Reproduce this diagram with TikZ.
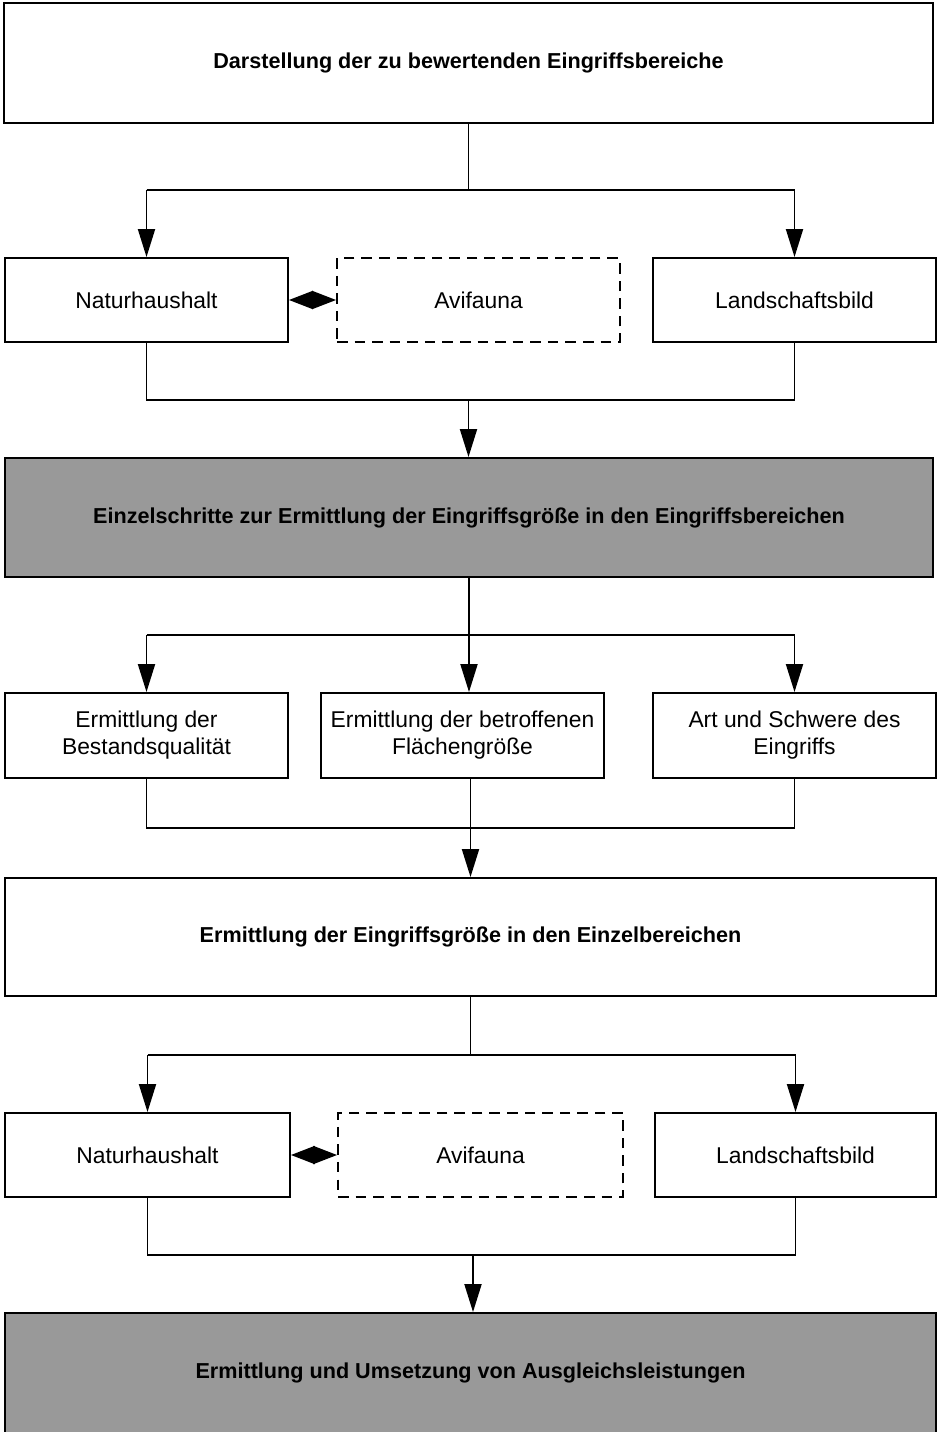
\documentclass[tikz,border=0pt]{standalone}
\usepackage{fontspec}
\setmainfont{Liberation Sans}
\usepackage{tikz}
\usetikzlibrary{arrows.meta, positioning}

\begin{document}
\begin{tikzpicture}[x=0.02cm, y=-0.02cm, line width=1.1pt,
  box/.style={draw=black, minimum width=5.66cm, minimum height=1.68cm, align=center, inner sep=1pt, font=\fontsize{13}{15.4}\selectfont},
  dbox/.style={box, dashed, dash pattern=on 6pt off 4pt},
  wide/.style={draw=black, minimum width=18.6cm, minimum height=2.38cm, align=center, font=\fontsize{12.3}{14}\selectfont\bfseries},
  greybox/.style={wide, fill=black!40},
  tip/.style={-{Triangle[length=0.56cm,width=0.34cm]}},
  both/.style={{Triangle[length=0.48cm,width=0.36cm]}-{Triangle[length=0.48cm,width=0.36cm]}}]

\useasboundingbox (0,0) rectangle (937,1432);

\node [wide, minimum width=18.58cm, minimum height=2.4cm] (darst) at (468.5,63) {Darstellung der zu bewertenden Eingriffsbereiche};

\node [box] (natur a) at (146.5,300) {Naturhaushalt};
\node [dbox] (avi a) at (478.5,300) {Avifauna};
\node [box] (land a) at (794.5,300) {Landschaftsbild};

\node [greybox, minimum width=18.56cm] (einzel) at (469,517.5) {Einzelschritte zur Ermittlung der Eingriffsgröße in den Eingriffsbereichen};

\node [box, minimum height=1.7cm] (bestand) at (146.5,735.5) {Ermittlung der\\Bestandsqualität};
\node [box, minimum height=1.7cm] (flaeche) at (462.5,735.5) {Ermittlung der betroffenen\\Flächengröße};
\node [box, minimum height=1.7cm] (schwere) at (794.5,735.5) {Art und Schwere des\\Eingriffs};

\node [wide, minimum width=18.62cm, minimum height=2.36cm] (groesse) at (470.5,937) {Ermittlung der Eingriffsgröße in den Einzelbereichen};

\node [box, minimum width=5.7cm] (natur b) at (147.5,1155) {Naturhaushalt};
\node [dbox, minimum width=5.7cm] (avi b) at (480.5,1155) {Avifauna};
\node [box, minimum width=5.62cm] (land b) at (795.5,1155) {Landschaftsbild};

\node [greybox, minimum width=18.62cm, minimum height=2.4cm] (ausgl) at (470.5,1373) {Ermittlung und Umsetzung von Ausgleichsleistungen};

% first block
\coordinate (fork a) at (468.5,190);
\coordinate (join a) at (468.5,400);
\draw (darst.south) -- (fork a);
\draw (natur a.north |- fork a) -- (land a.north |- fork a);
\draw [tip] (natur a.north |- fork a) -- (natur a.north);
\draw [tip] (land a.north |- fork a) -- (land a.north);
\draw [both] (natur a.east) -- (avi a.west);
\draw (natur a.south) -- (natur a.south |- join a) -- (land a.south |- join a) -- (land a.south);
\draw [tip] (join a) -- (einzel.north -| join a);

% second block
\coordinate (fork b) at (469,635);
\coordinate (join b) at (470.5,828);
\draw (einzel.south) -- (fork b);
\draw (bestand.north |- fork b) -- (schwere.north |- fork b);
\draw [tip] (bestand.north |- fork b) -- (bestand.north);
\draw [tip] (fork b) -- (flaeche.north -| fork b);
\draw [tip] (schwere.north |- fork b) -- (schwere.north);
\draw (bestand.south) -- (bestand.south |- join b) -- (schwere.south |- join b) -- (schwere.south);
\draw (flaeche.south -| join b) -- (join b);
\draw [tip] (join b) -- (groesse.north);

% third block
\coordinate (fork c) at (470.5,1055);
\coordinate (join c) at (473,1255);
\draw (groesse.south) -- (fork c);
\draw (natur b.north |- fork c) -- (land b.north |- fork c);
\draw [tip] (natur b.north |- fork c) -- (natur b.north);
\draw [tip] (land b.north |- fork c) -- (land b.north);
\draw [both] (natur b.east) -- (avi b.west);
\draw (natur b.south) -- (natur b.south |- join c) -- (land b.south |- join c) -- (land b.south);
\draw [tip] (join c) -- (ausgl.north -| join c);
\end{tikzpicture}
\end{document}
